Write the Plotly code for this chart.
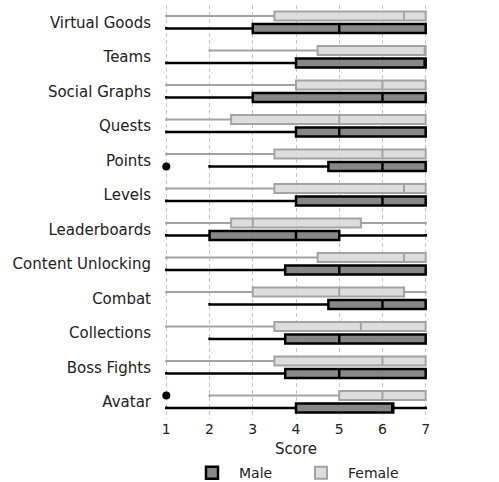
import plotly.graph_objects as go

# Game elements, listed top to bottom
categories = [
    "Virtual Goods", "Teams", "Social Graphs", "Quests", "Points", "Levels",
    "Leaderboards", "Content Unlocking", "Combat", "Collections",
    "Boss Fights", "Avatar",
]

# Five-number summaries per element (Likert score 1-7)
male_min = [1, 1, 1, 1, 2, 1, 1, 1, 2, 2, 1, 1]
male_q1 = [3, 4, 3, 4, 4.75, 4, 2, 3.75, 4.75, 3.75, 3.75, 4]
male_median = [5, 7, 6, 5, 6, 6, 4, 5, 6, 5, 5, 6.25]
male_q3 = [7, 7, 7, 7, 7, 7, 5, 7, 7, 7, 7, 6.25]
male_max = [7, 7, 7, 7, 7, 7, 7, 7, 7, 7, 7, 7]

female_min = [1, 2, 1, 1, 1, 1, 1, 1, 1, 1, 1, 2]
female_q1 = [3.5, 4.5, 4, 2.5, 3.5, 3.5, 2.5, 4.5, 3, 3.5, 3.5, 5]
female_median = [6.5, 7, 6, 5, 6, 6.5, 3, 6.5, 5, 5.5, 6, 6]
female_q3 = [7, 7, 7, 7, 7, 7, 5.5, 7, 6.5, 7, 7, 7]
female_max = [7, 7, 7, 7, 7, 7, 7, 7, 7, 7, 7, 7]

# Outlying answers
male_outlier_cats = ["Points"]
male_outlier_vals = [1]
female_outlier_cats = ["Avatar"]
female_outlier_vals = [1]

score_ticks = [1, 2, 3, 4, 5, 6, 7]

FONT = "DejaVu Sans"
TEXT = "#222222"
OFFSET = 0.18   # shift of each gender's box from the category centre
BOX_W = 0.26

idx = {c: i for i, c in enumerate(categories)}
pos = list(range(len(categories)))

fig = go.Figure()

series = [
    ("Male", +OFFSET, male_min, male_q1, male_median, male_q3, male_max,
     "rgba(115,115,115,0.85)", "#000000", 2.5),
    ("Female", -OFFSET, female_min, female_q1, female_median, female_q3, female_max,
     "rgba(215,215,215,0.85)", "#a3a3a3", 2),
]

for name, off, lo, q1, med, q3, hi, fill, line, lw in series:
    fig.add_trace(go.Box(
        name=name,
        orientation="h",
        y=[p + off for p in pos],
        q1=q1, median=med, q3=q3,
        lowerfence=lo, upperfence=hi,
        width=BOX_W,
        whiskerwidth=0.3,
        fillcolor=fill,
        line=dict(color=line, width=lw),
        boxpoints=False,
        hoverinfo="x",
    ))

for cats, vals, off in [(male_outlier_cats, male_outlier_vals, +OFFSET),
                        (female_outlier_cats, female_outlier_vals, -OFFSET)]:
    fig.add_trace(go.Scatter(
        x=vals,
        y=[idx[c] + off for c in cats],
        mode="markers",
        marker=dict(color="#000000", size=8),
        showlegend=False,
        cliponaxis=False,
    ))

fig.update_layout(
    width=499, height=482,
    margin=dict(l=162, r=69, t=5, b=63, autoexpand=False),
    paper_bgcolor="white",
    plot_bgcolor="white",
    boxmode="overlay",
    font=dict(family=FONT, size=14, color=TEXT),
    showlegend=True,
    legend=dict(
        orientation="h",
        x=0.4925, xanchor="center",
        y=-0.092, yanchor="top",
        font=dict(family=FONT, size=14, color=TEXT),
        itemwidth=44,
        entrywidth=50,
        entrywidthmode="pixels",
    ),
    xaxis=dict(
        range=[0.9, 7.1],
        tickvals=score_ticks,
        ticktext=[str(t) for t in score_ticks],
        showgrid=True,
        gridcolor="#c8c8c8",
        gridwidth=1,
        griddash="4px,3px",
        zeroline=False,
        showline=False,
        ticks="",
        automargin=False,
        title=dict(text="Score", font=dict(family=FONT, size=15, color=TEXT), standoff=7),
        tickfont=dict(family=FONT, size=14, color=TEXT),
    ),
    yaxis=dict(
        range=[len(categories) - 0.5, -0.5],
        tickvals=pos,
        ticktext=categories,
        showgrid=False,
        zeroline=False,
        showline=False,
        ticks="",
        automargin=False,
        ticklabelstandoff=10,
        tickfont=dict(family=FONT, size=15, color=TEXT),
    ),
)

fig.write_html("out.html")
